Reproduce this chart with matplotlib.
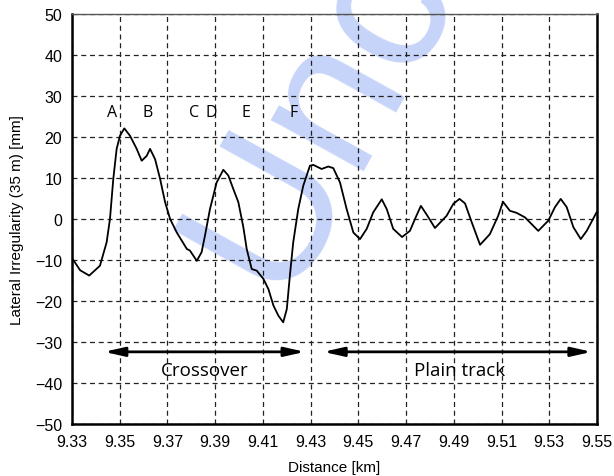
import numpy as np
import matplotlib
matplotlib.use("Agg")
import matplotlib.pyplot as plt

# distance [km] and lateral irregularity [mm]
dist = [9.3303, 9.3334, 9.3372, 9.3417, 9.3445, 9.3459, 9.3473, 9.3487, 9.3501, 9.3519,
        9.3543, 9.3571, 9.3592, 9.3613, 9.3627, 9.3648, 9.3669, 9.3690, 9.3711, 9.3739,
        9.3781, 9.3794, 9.3823, 9.3843, 9.3857, 9.3878, 9.3906, 9.3934, 9.3955, 9.3976,
        9.3997, 9.4018, 9.4032, 9.4053, 9.4074, 9.4102, 9.4123, 9.4144, 9.4165, 9.4185,
        9.4200, 9.4213, 9.4227, 9.4248, 9.4269, 9.4297, 9.4311, 9.4346, 9.4374, 9.4395,
        9.4423, 9.4451, 9.4479, 9.4507, 9.4535, 9.4562, 9.4598, 9.4619, 9.4646, 9.4683,
        9.4716, 9.4741, 9.4762, 9.4787, 9.4821, 9.4870, 9.4898, 9.4924, 9.4947, 9.4975,
        9.5010, 9.5051, 9.5086, 9.5106, 9.5135, 9.5163, 9.5198, 9.5254, 9.5296, 9.5324,
        9.5348, 9.5373, 9.5401, 9.5432, 9.5457, 9.5498]
irreg = [-9.8, -12.5, -13.8, -11.4, -5.7, 0.0, 9.8, 17.1, 20.3, 22.1,
         20.3, 17.1, 14.2, 15.4, 17.1, 14.6, 9.8, 4.1, 0.0, -3.3,
         -7.3, -7.7, -10.2, -8.1, -4.1, 2.4, 8.9, 12.0, 10.6, 7.3,
         4.1, -2.0, -7.3, -12.2, -12.6, -14.6, -17.1, -21.1, -23.6, -25.2,
         -22.0, -13.8, -5.7, 2.4, 8.1, 13.0, 13.2, 12.2, 12.8, 12.4,
         8.9, 2.4, -3.3, -4.9, -2.4, 1.6, 4.8, 2.4, -2.4, -4.4,
         -2.9, 0.5, 3.2, 1.0, -2.2, 0.8, 3.7, 4.9, 3.8, -0.8,
         -6.3, -3.7, 0.8, 4.2, 2.0, 1.5, 0.4, -2.9, -0.4, 2.9,
         4.9, 2.9, -2.0, -4.9, -2.9, 1.6]

marks = ["A", "B", "C", "D", "E", "F"]
mark_x = [9.3469, 9.3616, 9.3812, 9.3882, 9.4028, 9.4227]
mark_y = 26.1

sections = ["Crossover", "Plain track"]
sec_start = [9.3434, 9.4353]
sec_end = [9.4276, 9.5478]
sec_label_x = [9.3857, 9.4926]
arrow_y = -32.4
sec_label_y = -36.8

xticks = [9.33, 9.35, 9.37, 9.39, 9.41, 9.43, 9.45, 9.47, 9.49, 9.51, 9.53, 9.55]
yticks = [-50, -40, -30, -20, -10, 0, 10, 20, 30, 40, 50]

fig = plt.figure(figsize=(6.14, 4.77), dpi=100)
ax = fig.add_axes([0.1173, 0.109, 0.855, 0.8596])
ax.set_facecolor("none")

# watermark behind everything
fig.text(0.468, 0.35, "Uncorrected Proof", fontsize=145, family="Liberation Sans",
         color="#c6d4fa", rotation=61, rotation_mode="anchor",
         ha="left", va="baseline", zorder=-5)

ax.plot(dist, irreg, color="k", lw=1.3, zorder=3)

for m, mx in zip(marks, mark_x):
    ax.text(mx, mark_y, m, ha="center", va="center", fontsize=11.5, family="Open Sans")

for s, a, b, lx in zip(sections, sec_start, sec_end, sec_label_x):
    ax.annotate("", xy=(b, arrow_y), xytext=(a, arrow_y),
                arrowprops=dict(arrowstyle="<|-|>,head_length=0.8,head_width=0.18",
                                lw=2, color="k", shrinkA=0, shrinkB=0, mutation_scale=15))
    ax.text(lx, sec_label_y, s, ha="center", va="center", fontsize=13.5, family="Open Sans")

ax.set_xlim(9.33, 9.55)
ax.set_ylim(-50, 50)
ax.set_xticks(xticks)
ax.set_yticks(yticks)
ax.set_xticklabels(["%.2f" % t for t in xticks])
ax.grid(True, color="#222222", lw=0.9, linestyle=(0, (4, 3)))
ax.tick_params(length=0, labelsize=11.5, pad=7)
for lab in ax.get_xticklabels() + ax.get_yticklabels():
    lab.set_family("Liberation Sans")

for side in ["left", "bottom", "right"]:
    ax.spines[side].set_linewidth(1.8)
ax.spines["top"].set_linewidth(1.0)
ax.spines["top"].set_color("#555555")

ax.set_xlabel("Distance [km]", fontsize=11, family="Liberation Sans", labelpad=8)
ax.set_ylabel("Lateral Irregularity (35 m) [mm]", fontsize=11, family="Liberation Sans", labelpad=8)

fig.savefig("out.png", dpi=100)
